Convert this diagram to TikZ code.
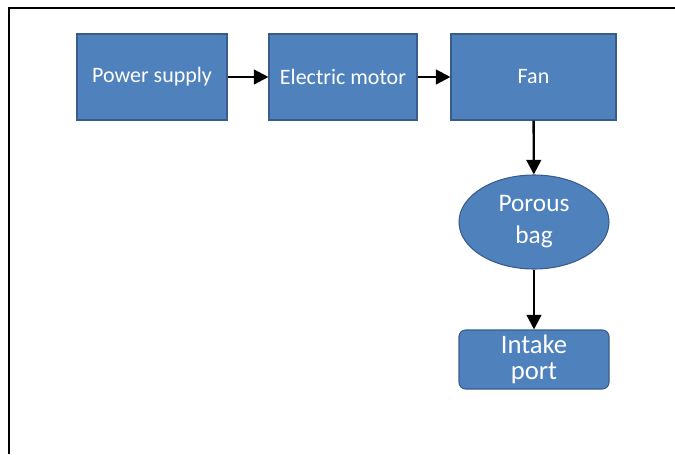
\documentclass[tikz,border=0pt]{standalone}
\usepackage{fontspec}
\setmainfont{Carlito}
\usetikzlibrary{arrows.meta,shapes.geometric}

\definecolor{boxblue}{RGB}{79,129,189}
\definecolor{boxedge}{RGB}{56,93,138}

\tikzset{
  block/.style={draw=boxedge, fill=boxblue, line width=0.8pt, text=white,
    font=\fontsize{16.5}{20}\selectfont, minimum height=64.5pt, inner sep=0pt,
    align=center},
  bagnode/.style={block, ellipse, minimum width=112.5pt, minimum height=70.5pt,
    font=\fontsize{19}{24}\selectfont},
  portnode/.style={block, rounded corners=5pt, minimum width=112.5pt,
    minimum height=44.25pt, font=\fontsize{20}{20}\selectfont},
  flow/.style={line width=1.8pt, -{Triangle[length=11pt,width=11pt]}}
}

\begin{document}
\begin{tikzpicture}[x=0.75pt,y=-0.75pt]

  \useasboundingbox (0,0) rectangle (675,454);

  % frame
  \draw [line width=1.6pt] (9,454) -- (9,8) -- (675,8);

  % top row
  \node [block, minimum width=112.5pt] (power) at (152,77) {Power supply};
  \node [block, minimum width=111pt] (motor) at (343,77) {Electric motor};
  \node [block, minimum width=123.75pt] (fan) at (533.5,77) {Fan};

  % down the right side
  \node [bagnode] (bag) at (534,222) {Porous\\bag};
  \node [portnode] (intake) at (534,359.5) {Intake\\port};

  \draw [flow] (power) -- (motor);
  \draw [flow] (motor) -- (fan);
  \draw [flow] (fan) -- (bag);
  \draw [flow] (bag) -- (intake);

\end{tikzpicture}
\end{document}
